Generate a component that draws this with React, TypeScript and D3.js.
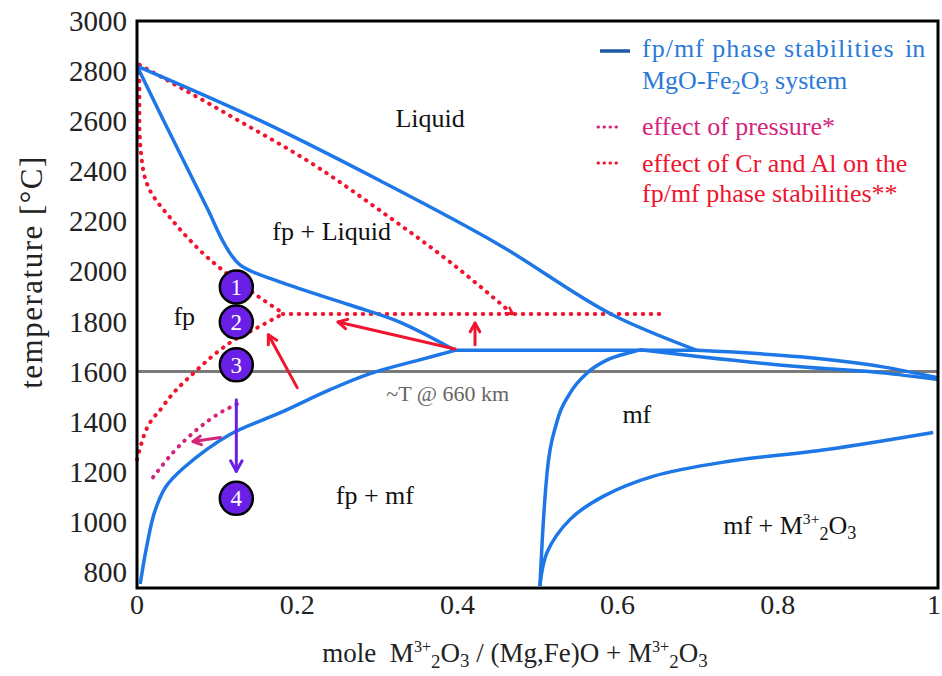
import React from 'react';
import * as d3 from 'd3';

// phase boundaries, [mole fraction, temperature °C]
const liquidus = [[0, 2820], [0.154, 2602], [0.303, 2363], [0.453, 2105], [0.594, 1826], [0.699, 1685]];
const solidus = [[0, 2820], [0.029, 2630], [0.058, 2443], [0.088, 2250], [0.11, 2105], [0.129, 2025], [0.182, 1954], [0.266, 1866], [0.328, 1798], [0.397, 1685]];
const peritectic = [[0.397, 1685], [0.699, 1685]];
const upperRight = [[0.699, 1685], [0.828, 1659], [0.931, 1619], [1.0, 1576]];
const lowerRight = [[0.628, 1687], [0.703, 1659], [0.828, 1619], [0.931, 1595], [1.0, 1568]];
const fpSolvus = [[0.004, 752], [0.012, 900], [0.022, 1040], [0.036, 1140], [0.058, 1215], [0.116, 1349], [0.179, 1436], [0.241, 1528], [0.291, 1592], [0.353, 1647], [0.397, 1685]];
const mfLeft = [[0.503, 744], [0.506, 931], [0.512, 1198], [0.524, 1397], [0.541, 1516], [0.562, 1595], [0.587, 1647], [0.619, 1679], [0.628, 1687]];
const mfRight = [[0.503, 744], [0.512, 879], [0.541, 1011], [0.582, 1102], [0.644, 1182], [0.737, 1241], [0.861, 1289], [0.994, 1357]];

// effect of Cr and Al
const crLiquidus = [[0.003, 2825], [0.116, 2622], [0.228, 2411], [0.303, 2244], [0.391, 2037], [0.469, 1830]];
const crSolidus = [[0.003, 2825], [0.003, 2602], [0.006, 2443], [0.016, 2324], [0.041, 2216], [0.066, 2125], [0.089, 2053], [0.107, 2005], [0.145, 1914], [0.182, 1834]];
const crSolvus = [[0, 1249], [0.007, 1329], [0.032, 1460], [0.075, 1607], [0.116, 1715], [0.15, 1775], [0.182, 1830]];
const crFlat = [[0.182, 1830], [0.657, 1830]];

// effect of pressure
const pressureSolvus = [[0.02, 1178], [0.045, 1277], [0.075, 1369], [0.104, 1436], [0.132, 1480]];

const redArrows = [
  [[0.397, 1690], [0.251, 1798]],
  [[0.2, 1536], [0.164, 1747]],
  [[0.422, 1707], [0.422, 1794]],
];
const pressureArrow = [[0.104, 1337], [0.07, 1321]];
const stepArrow = [[0.124, 1488], [0.124, 1202]];
const liquidusTip = [[0.455, 1862], [0.469, 1830]];

const steps = [
  { n: '1', t: 1938 },
  { n: '2', t: 1798 },
  { n: '3', t: 1627 },
  { n: '4', t: 1094 },
];
const stepX = 0.124;

const yTicks = [800, 1000, 1200, 1400, 1600, 1800, 2000, 2200, 2400, 2600, 2800, 3000];
const xTicks = [0, 0.2, 0.4, 0.6, 0.8, 1];
const xTickLabels = ['0', '0.2', '0.4', '0.6', '0.8', '1'];

const BLUE = '#1d77e6';
const RED = '#f0142e';
const MAGENTA = '#d4247c';
const PURPLE = '#6a1fe6';
const FONT = '"Liberation Serif", serif';

const W = 942;
const H = 676;

function Arrow({ from, to, color, x, y, width = 3, head = 10, shaft = true }) {
  const x1 = x(from[0]), y1 = y(from[1]), x2 = x(to[0]), y2 = y(to[1]);
  const a = Math.atan2(y2 - y1, x2 - x1);
  const h1 = [x2 - head * Math.cos(a - 0.5), y2 - head * Math.sin(a - 0.5)];
  const h2 = [x2 - head * Math.cos(a + 0.5), y2 - head * Math.sin(a + 0.5)];
  return (
    <g stroke={color} strokeWidth={width} fill="none" strokeLinecap="round" strokeLinejoin="round">
      {shaft && <line x1={x1} y1={y1} x2={x2} y2={y2} />}
      <path d={`M${h1[0]},${h1[1]}L${x2},${y2}L${h2[0]},${h2[1]}`} />
    </g>
  );
}

export default function App() {
  const x = d3.scaleLinear().domain([0, 1]).range([137, 938]);
  const y = d3.scaleLinear().domain([736, 3000]).range([588, 21]);
  const line = d3.line().x(d => x(d[0])).y(d => y(d[1])).curve(d3.curveMonotoneX);
  const lineY = d3.line().x(d => x(d[0])).y(d => y(d[1])).curve(d3.curveMonotoneY);
  const smooth = d3.line().x(d => x(d[0])).y(d => y(d[1])).curve(d3.curveCatmullRom.alpha(0.5));
  const straight = d3.line().x(d => x(d[0])).y(d => y(d[1]));

  const blue = [
    line(liquidus), smooth(solidus), line(upperRight), line(lowerRight),
    smooth(fpSolvus), line(mfLeft), smooth(mfRight), straight(peritectic),
  ];
  const dotted = { fill: 'none', strokeWidth: 4, strokeDasharray: '0.5 7.5', strokeLinecap: 'round' };

  const sup = (s) => <tspan dy={-10} fontSize="0.6em">{s}</tspan>;
  const m3o3 = (
    <>
      M{sup('3+')}<tspan dy={16} fontSize="0.7em">2</tspan><tspan dy={-6}>O</tspan><tspan dy={5} fontSize="0.7em">3</tspan>
    </>
  );

  return (
    <svg width={W} height={H} style={{ position: 'absolute', left: 0, top: 0, background: '#fff' }} fontFamily={FONT}>
      <rect width={W} height={H} fill="#fff" />

      {/* 660 km line */}
      <line x1={x(0)} x2={x(1)} y1={y(1600)} y2={y(1600)} stroke="#7a7a7a" strokeWidth={3} />

      {/* Cr / Al effect */}
      <path d={line(crLiquidus)} stroke={RED} {...dotted} />
      <path d={lineY(crSolidus)} stroke={RED} {...dotted} />
      <path d={line(crSolvus)} stroke={RED} {...dotted} />
      <path d={straight(crFlat)} stroke={RED} {...dotted} />
      <path d={line(pressureSolvus)} stroke={MAGENTA} {...dotted} />
      <Arrow from={liquidusTip[0]} to={liquidusTip[1]} color={RED} x={x} y={y} head={7} width={2.5} shaft={false} />

      {/* MgO-Fe2O3 boundaries */}
      {blue.map((d, i) => (
        <path key={i} d={d} fill="none" stroke={BLUE} strokeWidth={3.5} strokeLinejoin="round" />
      ))}

      {redArrows.map((a, i) => (
        <Arrow key={i} from={a[0]} to={a[1]} color={RED} x={x} y={y} />
      ))}
      <Arrow from={pressureArrow[0]} to={pressureArrow[1]} color={MAGENTA} x={x} y={y} head={9} />
      <Arrow from={stepArrow[0]} to={stepArrow[1]} color={PURPLE} x={x} y={y} head={12} />

      {steps.map(s => (
        <g key={s.n} transform={`translate(${x(stepX)},${y(s.t)})`}>
          <circle r={16.5} fill={PURPLE} stroke="#000" strokeWidth={2.5} />
          <text y={8} textAnchor="middle" fill="#fff" fontSize={23}>{s.n}</text>
        </g>
      ))}

      {/* frame */}
      <rect x={x(0)} y={y(3000)} width={x(1) - x(0)} height={y(736) - y(3000)} fill="none" stroke="#000" strokeWidth={3} />

      {yTicks.map(t => (
        <text key={t} x={127} y={y(t) + 10} textAnchor="end" fontSize={29} fill="#222">{t}</text>
      ))}
      {xTicks.map((t, i) => (
        <text key={t} x={i === xTicks.length - 1 ? x(t) - 4 : x(t)} y={614} textAnchor="middle" fontSize={28} fill="#222">{xTickLabels[i]}</text>
      ))}

      <text transform="translate(42,272) rotate(-90)" textAnchor="middle" fontSize={31} letterSpacing={1.5} fill="#222">temperature [°C]</text>
      <text x={515} y={662} textAnchor="middle" fontSize={27} fill="#222">
        mole{'\u00a0\u00a0'}{m3o3}<tspan dy={-5}> / (Mg,Fe)O + </tspan>{m3o3}
      </text>

      {/* region labels */}
      <g fontSize={26} fill="#111" textAnchor="middle">
        <text x={x(0.366)} y={y(2575)}>Liquid</text>
        <text x={x(0.243)} y={y(2125)}>fp + Liquid</text>
        <text x={x(0.059)} y={y(1786)}>fp</text>
        <text x={x(0.624)} y={y(1393)}>mf</text>
        <text x={x(0.297)} y={y(1070)}>fp + mf</text>
        <text x={x(0.815)} y={y(951)}>mf + {m3o3}</text>
      </g>
      <text x={x(0.388)} y={y(1484)} textAnchor="middle" fontSize={22} fill="#666">~T @ 660 km</text>

      {/* legend */}
      <line x1={600} x2={630} y1={51} y2={51} stroke="#1f5aa0" strokeWidth={3.5} />
      <line x1={598} x2={620} y1={127} y2={127} stroke={MAGENTA} strokeWidth={3} strokeDasharray="0.5 5.5" strokeLinecap="round" />
      <line x1={598} x2={620} y1={163} y2={163} stroke={RED} strokeWidth={3} strokeDasharray="0.5 5.5" strokeLinecap="round" />
      <g fontSize={26}>
        <text x={642} y={57} fill="#2a7ad8" letterSpacing={1}>fp/mf phase stabilities</text>
        <text x={905} y={57} fill="#2a7ad8">in</text>
        <text x={642} y={89} fill="#2a7ad8">MgO-Fe<tspan dy={5} fontSize="0.7em">2</tspan><tspan dy={-5}>O</tspan><tspan dy={5} fontSize="0.7em">3</tspan><tspan dy={-5}> system</tspan></text>
        <text x={642} y={135} fill={MAGENTA}>effect of pressure*</text>
        <text x={642} y={172} fill={RED}>effect of Cr and Al on the</text>
        <text x={642} y={202} fill={RED}>fp/mf phase stabilities**</text>
      </g>
    </svg>
  );
}
